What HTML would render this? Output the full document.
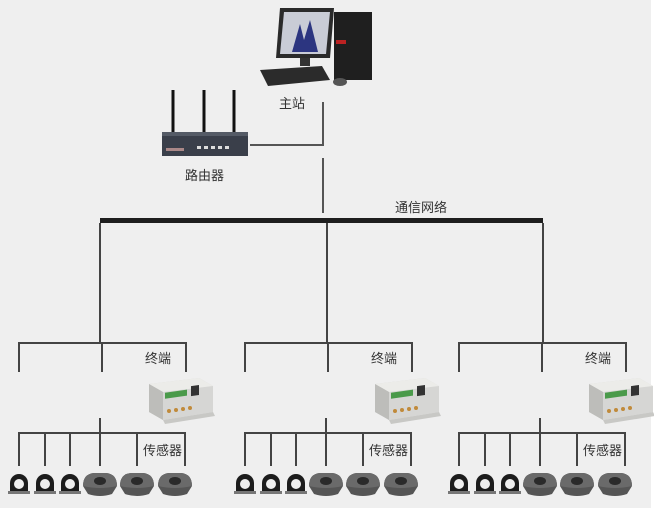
<!DOCTYPE html>
<html><head><meta charset="utf-8"><style>
html,body{margin:0;padding:0;background:#efefef;}
svg{display:block;}
text{font-family:"Liberation Sans","Noto Sans CJK SC",sans-serif;fill:#333;font-size:13px;}
</style></head><body>
<svg width="654" height="508" viewBox="0 0 654 508" xmlns="http://www.w3.org/2000/svg">
<defs>
<g id="dev">
  <polygon points="0,6 50,0 64,8 64,34 14,42 0,34" fill="#d6d6d4"/>
  <polygon points="0,6 50,0 64,8 14,14" fill="#ecece9"/>
  <polygon points="0,6 14,14 14,42 0,34" fill="#bdbdba"/>
  <rect x="16" y="17" width="22" height="6" fill="#4a9a4a" transform="skewY(-8)"/>
  <rect x="42" y="14" width="8" height="10" fill="#333" transform="skewY(-8)"/>
  <g fill="#c08a3a"><circle cx="20" cy="33" r="2"/><circle cx="27" cy="32" r="2"/><circle cx="34" cy="31" r="2"/><circle cx="41" cy="30" r="2"/></g>
  <polygon points="14,42 64,34 66,38 16,46" fill="#c8c8c5"/>
</g>
<g id="ring">
  <path d="M-9,8 L-9,-1 A9,9 0 0 1 9,-1 L9,8 Z" fill="#1c1c1c"/>
  <circle cx="0" cy="0" r="5" fill="#efefef"/>
  <rect x="-11" y="7" width="22" height="3" fill="#777"/>
</g>
<g id="big">
  <path d="M-17,2 Q-17,-10 -6,-11 L6,-11 Q17,-10 17,2 L12,10 Q0,14 -12,10 Z" fill="#555"/>
  <path d="M-17,2 Q-17,-10 -6,-11 L6,-11 Q17,-10 17,2 Q0,6 -17,2Z" fill="#6a6a6a"/>
  <ellipse cx="0" cy="-3" rx="6" ry="4" fill="#2a2a2a"/>
</g>
<g id="grp" stroke="#444" stroke-width="2" fill="none">
  <path d="M0,372 V343 H167 V372 M83,343 V372"/>
  <path d="M81,418 V433 M0,466 V433 H166 V466 M26,433 V466 M51,433 V466 M81,433 V466 M118,433 V466"/>
</g>
</defs>
<rect width="654" height="508" fill="#efefef"/>
<rect x="651" y="0" width="3" height="508" fill="#fff"/>

<!-- computer -->
<polygon points="280,8 334,8 330,58 276,58" fill="#2a2a2a"/>
<polygon points="284,12 330,12 326,54 280,54" fill="#c9ccd6"/>
<path d="M292,52 L300,24 L304,40 L310,20 L318,52Z" fill="#2c3580"/>
<rect x="300" y="58" width="10" height="8" fill="#333"/>
<rect x="334" y="12" width="38" height="68" fill="#1f1f1f"/>
<rect x="336" y="40" width="10" height="4" fill="#b22"/>
<polygon points="260,70 322,66 330,80 268,86" fill="#2b2b2b"/>
<ellipse cx="340" cy="82" rx="7" ry="4" fill="#555"/>
<text x="279" y="108" font-size="14">主站</text>

<!-- router -->
<g stroke="#111" stroke-width="3"><line x1="173" y1="90" x2="173" y2="134"/><line x1="204" y1="90" x2="204" y2="134"/><line x1="234" y1="90" x2="234" y2="134"/></g>
<rect x="162" y="132" width="86" height="24" fill="#3a3f4a"/>
<rect x="162" y="132" width="86" height="4" fill="#555b66"/>
<g fill="#ddd"><rect x="197" y="146" width="4" height="3"/><rect x="204" y="146" width="4" height="3"/><rect x="211" y="146" width="4" height="3"/><rect x="218" y="146" width="4" height="3"/><rect x="225" y="146" width="4" height="3"/></g>
<rect x="166" y="148" width="18" height="3" fill="#a88"/>
<text x="185" y="180" font-size="14">路由器</text>

<g stroke="#555" stroke-width="2" fill="none">
<path d="M250,145 H323 V102"/>
<path d="M323,158 V213"/>
</g>
<rect x="100" y="218" width="443" height="5" fill="#1e1e1e"/>
<text x="395" y="212">通信网络</text>
<g stroke="#444" stroke-width="2"><line x1="100" y1="223" x2="100" y2="343"/><line x1="327" y1="223" x2="327" y2="343"/><line x1="543" y1="223" x2="543" y2="343"/></g>

<g transform="translate(19,0)">
<use href="#grp"/>
<text x="126" y="363">终端</text><text x="124" y="455">传感器</text>
<use href="#dev" transform="translate(130,378)"/>
<use href="#ring" transform="translate(0,484)"/><use href="#ring" transform="translate(26,484)"/><use href="#ring" transform="translate(51,484)"/>
<use href="#big" transform="translate(81,484)"/><use href="#big" transform="translate(118,484)"/><use href="#big" transform="translate(156,484)"/>
</g>
<g transform="translate(245,0)">
<use href="#grp"/>
<text x="126" y="363">终端</text><text x="124" y="455">传感器</text>
<use href="#dev" transform="translate(130,378)"/>
<use href="#ring" transform="translate(0,484)"/><use href="#ring" transform="translate(26,484)"/><use href="#ring" transform="translate(51,484)"/>
<use href="#big" transform="translate(81,484)"/><use href="#big" transform="translate(118,484)"/><use href="#big" transform="translate(156,484)"/>
</g>
<g transform="translate(459,0)">
<use href="#grp"/>
<text x="126" y="363">终端</text><text x="124" y="455">传感器</text>
<use href="#dev" transform="translate(130,378)"/>
<use href="#ring" transform="translate(0,484)"/><use href="#ring" transform="translate(26,484)"/><use href="#ring" transform="translate(51,484)"/>
<use href="#big" transform="translate(81,484)"/><use href="#big" transform="translate(118,484)"/><use href="#big" transform="translate(156,484)"/>
</g>
</svg>
</body></html>
